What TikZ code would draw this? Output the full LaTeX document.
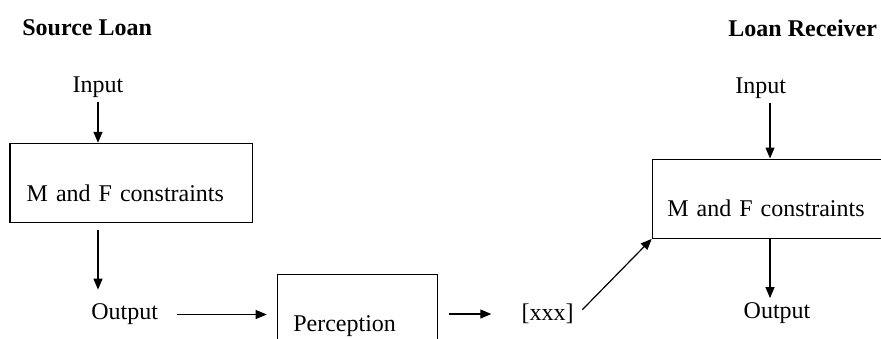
\documentclass[tikz,border=0pt]{standalone}
\usepackage{fontspec}
\setmainfont{Liberation Serif}
\usepackage{tikz}
\usetikzlibrary{arrows.meta}
\tikzset{
  txt/.style={inner sep=2pt, font=\fontsize{12pt}{14pt}\selectfont},
  head/.style={inner sep=0pt, anchor=west, font=\fontsize{12pt}{14pt}\selectfont\bfseries},
  stagebox/.style={rectangle, draw=black, line width=0.6pt, align=left, text height=21pt, text depth=3pt, inner ysep=4pt, minimum height=39.6pt, font=\fontsize{12pt}{14pt}\selectfont},
  flow/.style={line width=0.6pt, -{Triangle[length=5.5pt,width=4.5pt]}}
}

\begin{document}
\begin{tikzpicture}[x=0.5pt,y=-0.5pt]
  \useasboundingbox (0,0) rectangle (881,338);
  \clip (0,0) rectangle (881,338);

  % source loan side
  \node[head] (src) at (22,28) {Source Loan};
  \node[txt] (inL) at (98,87) {Input};
  \node[stagebox, text width=104.5pt, inner xsep=8.35pt] (boxL) at (131.2,183) {M and F constraints};
  \node[txt] (outL) at (124.7,314.5) {Output};
  \draw[flow] (inL.south) -- (inL.south |- boxL.north);
  \draw[flow, shorten <=3.5pt, shorten >=5pt] (inL.south |- boxL.south) -- (inL.south |- outL.north);

  % perception step
  \node[stagebox, text width=64.2pt, inner xsep=8pt] (boxP) at (357.5,313.8) {Perception};
  \node[txt] (xxx) at (547.7,314) {[xxx]};
  \draw[flow, shorten <=7.5pt, shorten >=5pt] (outL.east) -- (outL.east -| boxP.west);
  \draw[flow, shorten <=5.3pt, shorten >=13pt] (boxP.east |- xxx) -- (xxx.west);

  % loan receiver side
  \node[head] (dst) at (728,28) {Loan Receiver};
  \node[txt] (inR) at (760.8,88) {Input};
  \node[stagebox, text width=106.2pt, inner xsep=7.5pt] (boxR) at (773.5,198.7) {M and F constraints};
  \node[txt] (outR) at (777,313) {Output};
  \draw[flow] ([xshift=4.6pt]inR.south) -- ([xshift=4.6pt]inR.south |- boxR.north);
  \draw[flow] ([xshift=4.6pt]inR.south |- boxR.south) -- ([xshift=4.6pt]inR.south |- outR.north);
  \draw[flow, shorten <=3pt] (xxx.east) -- (boxR.south west);
\end{tikzpicture}
\end{document}
